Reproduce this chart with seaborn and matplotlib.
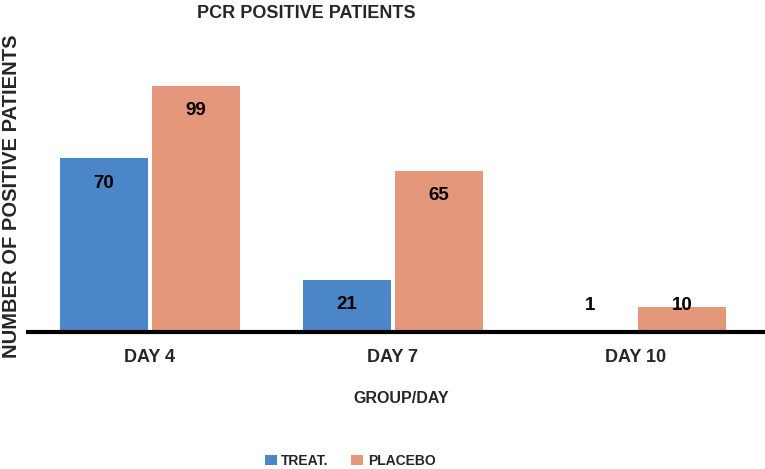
import matplotlib

matplotlib.use("Agg")

import matplotlib.pyplot as plt
import pandas as pd
import seaborn as sns

# =====================================
# Data
# =====================================

days = ["DAY 4", "DAY 7", "DAY 10"]
groups = ["TREAT.", "PLACEBO"]
treat = [70, 21, 1]
placebo = [99, 65, 10]
colors = ["#4a86c8", "#e4977a"]

df = pd.DataFrame(
    {
        "day": days * 2,
        "group": [groups[0]] * len(days) + [groups[1]] * len(days),
        "patients": treat + placebo,
    }
)

# =====================================
# Figure
# =====================================

sns.set_style("white")
plt.rcParams["font.family"] = ["Liberation Sans", "DejaVu Sans"]
plt.rcParams["font.weight"] = "bold"

fig = plt.figure(figsize=(7.65, 4.69), dpi=100)
ax = fig.add_axes([28 / 765, 137 / 469, 735 / 765, 298 / 469])

sns.barplot(
    data=df,
    x="day",
    y="patients",
    hue="group",
    order=days,
    hue_order=groups,
    palette=colors,
    saturation=1,
    width=0.76,
    gap=0.05,
    linewidth=0,
    ax=ax,
)

ax.set_xlim(-0.502, 2.523)
ax.set_ylim(0, 120)

# value labels just inside the bar tops
for container, values in zip(ax.containers, [treat, placebo]):
    for patch, v in zip(container, values):
        ax.text(
            patch.get_x() + patch.get_width() / 2,
            max(v - 10, 10.5),
            str(v),
            ha="center",
            va="center",
            fontsize=13.5,
            fontweight="bold",
            color="black",
        )

sns.despine(ax=ax, left=True)
ax.spines["bottom"].set_color("black")
ax.spines["bottom"].set_linewidth(3)
ax.set_yticks([])
ax.tick_params(axis="x", length=0, pad=12, labelsize=13)

ax.set_xlabel("GROUP/DAY", fontsize=11.5, fontweight="bold")
ax.xaxis.set_label_coords(0.5075, -0.2248)
ax.xaxis.label.set_va("center")

ax.set_ylabel("NUMBER OF POSITIVE PATIENTS", fontsize=14.5, fontweight="bold")
ax.yaxis.set_label_coords(-0.022, 0.4547)
ax.yaxis.label.set_va("center")
ax.yaxis.label.set_ha("center")

fig.text(
    306 / 765, 1 - 13 / 469, "PCR POSITIVE PATIENTS",
    ha="center", va="center", fontsize=13, fontweight="bold",
)

handles, labels = ax.get_legend_handles_labels()
ax.legend(
    handles,
    labels,
    loc="center",
    bbox_to_anchor=(350 / 765, 1 - 461 / 469),
    bbox_transform=fig.transFigure,
    ncol=2,
    frameon=False,
    fontsize=10,
    handlelength=0.9,
    handleheight=0.7,
    handletextpad=0.3,
    columnspacing=1.6,
)

plt.savefig("out.png", dpi=100)
plt.close()
